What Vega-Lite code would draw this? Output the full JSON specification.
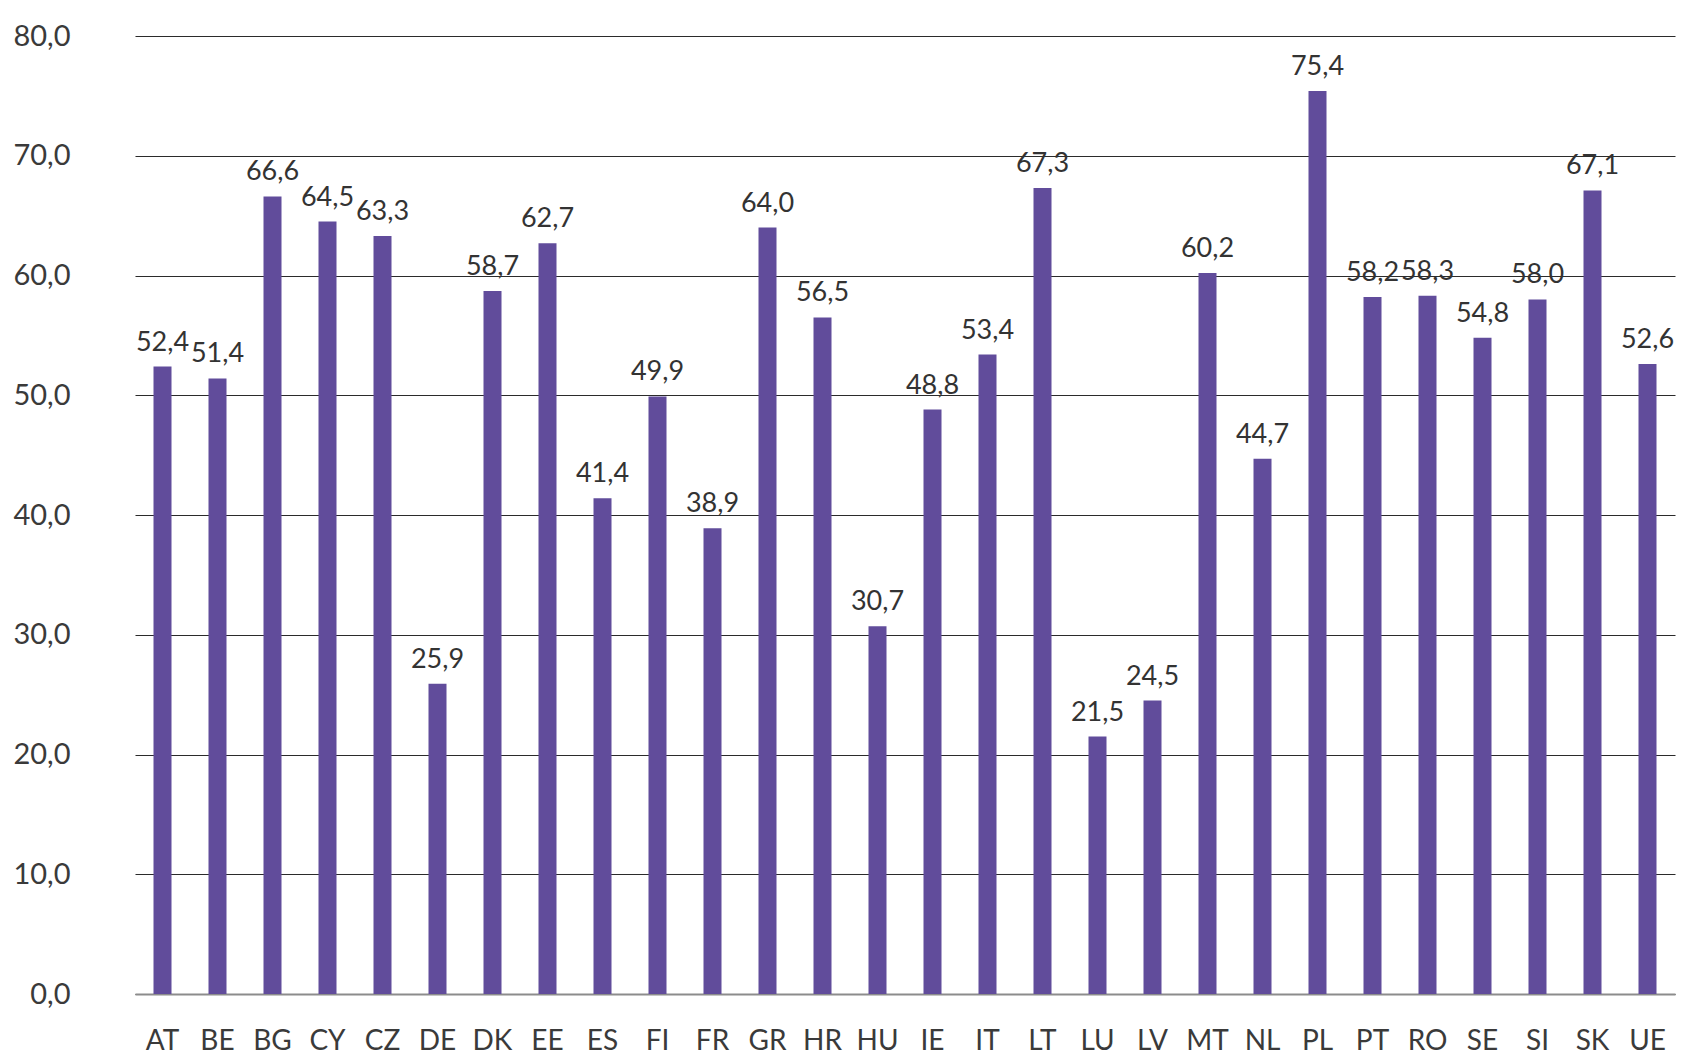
{
  "$schema": "https://vega.github.io/schema/vega-lite/v6.json",
  "autosize": "none",
  "width": 1540,
  "height": 958,
  "padding": {"left": 135, "top": 36, "right": 28, "bottom": 70},
  "background": "#ffffff",
  "data": {
    "values": [
      {"country": "AT", "value": 52.4},
      {"country": "BE", "value": 51.4},
      {"country": "BG", "value": 66.6},
      {"country": "CY", "value": 64.5},
      {"country": "CZ", "value": 63.3},
      {"country": "DE", "value": 25.9},
      {"country": "DK", "value": 58.7},
      {"country": "EE", "value": 62.7},
      {"country": "ES", "value": 41.4},
      {"country": "FI", "value": 49.9},
      {"country": "FR", "value": 38.9},
      {"country": "GR", "value": 64.0},
      {"country": "HR", "value": 56.5},
      {"country": "HU", "value": 30.7},
      {"country": "IE", "value": 48.8},
      {"country": "IT", "value": 53.4},
      {"country": "LT", "value": 67.3},
      {"country": "LU", "value": 21.5},
      {"country": "LV", "value": 24.5},
      {"country": "MT", "value": 60.2},
      {"country": "NL", "value": 44.7},
      {"country": "PL", "value": 75.4},
      {"country": "PT", "value": 58.2},
      {"country": "RO", "value": 58.3},
      {"country": "SE", "value": 54.8},
      {"country": "SI", "value": 58.0},
      {"country": "SK", "value": 67.1},
      {"country": "UE", "value": 52.6}
    ]
  },
  "encoding": {
    "x": {
      "field": "country",
      "type": "nominal",
      "sort": null,
      "title": null,
      "scale": {"paddingInner": 0, "paddingOuter": 0},
      "axis": {
        "labelAngle": 0,
        "labelFont": "Lato",
        "labelFontSize": 28,
        "labelColor": "#3a3a3a",
        "labelPadding": 33,
        "ticks": false,
        "domainColor": "#8c8c8c",
        "domainWidth": 2,
        "grid": false
      }
    },
    "y": {
      "field": "value",
      "type": "quantitative",
      "title": null,
      "scale": {"domain": [0, 80], "nice": false},
      "axis": {
        "values": [0, 10, 20, 30, 40, 50, 60, 70, 80],
        "format": ".1f",
        "labelFont": "Lato",
        "labelFontSize": 29,
        "labelColor": "#3a3a3a",
        "labelPadding": 65,
        "ticks": false,
        "domain": false,
        "gridColor": "#2b2b2b",
        "gridWidth": 1.2
      }
    }
  },
  "layer": [
    {
      "mark": {"type": "bar", "color": "#614c9b", "size": 18}
    },
    {
      "mark": {
        "type": "text",
        "font": "Lato",
        "fontSize": 27,
        "color": "#333333",
        "baseline": "alphabetic",
        "dy": -16
      },
      "encoding": {
        "text": {"field": "value", "type": "quantitative", "format": ".1f"}
      }
    }
  ],
  "config": {
    "locale": {
      "number": {"decimal": ",", "thousands": ".", "grouping": [3], "currency": ["", " €"]}
    },
    "view": {"stroke": null}
  }
}
